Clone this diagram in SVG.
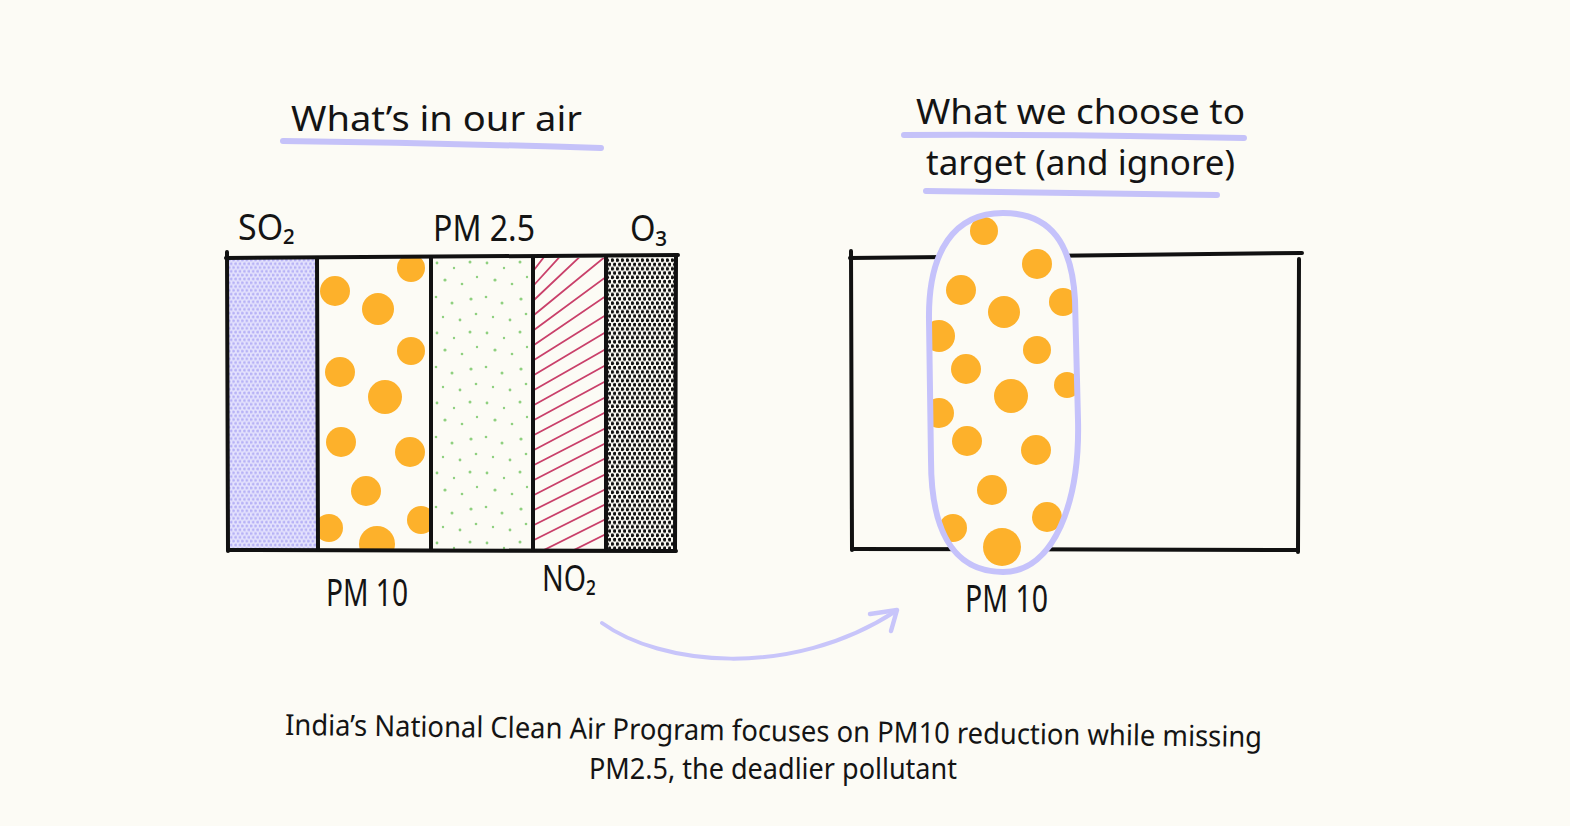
<svg xmlns="http://www.w3.org/2000/svg" width="1570" height="826" viewBox="0 0 1570 826">
<style>
.t{font-family:"Noto Sans","DejaVu Sans",sans-serif;fill:#141414;}
.ln{stroke:#111;stroke-width:4;stroke-linecap:round;fill:none;}
.ul{stroke:#c5c2f9;stroke-width:6;stroke-linecap:round;fill:none;}
.dot{fill:#fdb12b;}
.red{stroke:#c9406a;stroke-width:1.8;stroke-linecap:round;fill:none;}
</style>
<defs>
<pattern id="so2" patternUnits="userSpaceOnUse" x="228" y="258" width="4.4" height="7.6">
<rect width="4.4" height="7.6" fill="#e4e2fd"/>
<circle cx="1.1" cy="1.9" r="1.5" fill="#b7b2f6"/>
<circle cx="3.3" cy="5.7" r="1.5" fill="#b7b2f6"/>
</pattern>
<pattern id="o3" patternUnits="userSpaceOnUse" x="606" y="258" width="5" height="8.6">
<rect width="5" height="8.6" fill="#fcfbf5"/>
<circle cx="1.25" cy="2.15" r="1.85" fill="#111"/>
<circle cx="3.75" cy="6.45" r="1.85" fill="#111"/>
</pattern>
<pattern id="pm25" patternUnits="userSpaceOnUse" x="431" y="258" width="50" height="70">
<rect width="50" height="70" fill="#fcfbf5"/>
<g fill="#8fd07f">
<circle cx="6" cy="5" r="1.4"/><circle cx="23" cy="10" r="1.2"/><circle cx="39" cy="4" r="1.5"/>
<circle cx="14" cy="22" r="1.6"/><circle cx="31" cy="26" r="1.3"/><circle cx="46" cy="19" r="1.2"/>
<circle cx="5" cy="39" r="1.3"/><circle cx="21" cy="45" r="1.5"/><circle cx="40" cy="41" r="1.6"/>
<circle cx="12" cy="59" r="1.2"/><circle cx="29" cy="62" r="1.4"/><circle cx="45" cy="56" r="1.3"/>
</g>
</pattern>
<clipPath id="cPM10"><rect x="318" y="258" width="113" height="292"/></clipPath>
<clipPath id="cNO2"><rect x="533" y="258" width="73" height="292"/></clipPath>
<clipPath id="cPill"><path d="M1003,213 C1052,213 1072,245 1075,300 L1078,420 C1080,500 1055,572 1003,572 C950,572 931,525 931,460 L929,320 C928,250 955,213 1003,213 Z"/></clipPath>
</defs>
<rect width="1570" height="826" fill="#fcfbf5"/>

<g id="title-left">
<text class="t" x="291" y="131" font-size="34" textLength="291" lengthAdjust="spacingAndGlyphs">What’s in our air</text>
<path class="ul" d="M283,141 Q440,143 601,148"/>
</g>

<g id="title-right">
<text class="t" x="916" y="124" font-size="34" textLength="329" lengthAdjust="spacingAndGlyphs">What we choose to</text>
<path class="ul" d="M904,135 Q1070,134 1244,138"/>
<text class="t" x="926" y="175" font-size="34" textLength="309" lengthAdjust="spacingAndGlyphs">target (and ignore)</text>
<path class="ul" d="M926,191 Q1070,193 1217,195"/>
</g>

<g id="col-so2">
<rect x="228" y="258" width="89" height="292" fill="url(#so2)"/>
<text class="t" x="238" y="240" font-size="36" textLength="57" lengthAdjust="spacingAndGlyphs">SO₂</text>
</g>

<g id="col-pm10">
<rect x="318" y="258" width="113" height="292" fill="#fcfbf5"/>
<g clip-path="url(#cPM10)">
<circle class="dot" cx="411" cy="268" r="14"/>
<circle class="dot" cx="335" cy="291" r="15"/>
<circle class="dot" cx="378" cy="309" r="16"/>
<circle class="dot" cx="411" cy="351" r="14"/>
<circle class="dot" cx="340" cy="372" r="15"/>
<circle class="dot" cx="385" cy="397" r="17"/>
<circle class="dot" cx="341" cy="442" r="15"/>
<circle class="dot" cx="410" cy="452" r="15"/>
<circle class="dot" cx="366" cy="491" r="15"/>
<circle class="dot" cx="329" cy="528" r="14"/>
<circle class="dot" cx="421" cy="520" r="14"/>
<circle class="dot" cx="377" cy="544" r="18"/>
</g>
<text class="t" x="326" y="606" font-size="38" textLength="82" lengthAdjust="spacingAndGlyphs">PM 10</text>
</g>

<g id="col-pm25">
<rect x="431" y="258" width="102" height="292" fill="url(#pm25)"/>
<text class="t" x="433" y="241" font-size="36" textLength="102" lengthAdjust="spacingAndGlyphs">PM 2.5</text>
</g>

<g id="col-no2">
<rect x="533" y="258" width="73" height="292" fill="#fcfbf5"/>
<g clip-path="url(#cNO2)">
<path class="red" d="M534,270 L606,176 M534,285 L606,206 M534,300 L606,232 M534,315 L606,256 M534,330 L606,277 M534,345 L606,296 M534,360 L606,315 M534,375 L606,332 M534,390 L606,349 M534,405 L606,365 M534,420 L606,381 M534,435 L606,397 M534,450 L606,412 M534,465 L606,428 M534,480 L606,443 M534,495 L606,458 M534,510 L606,474 M534,525 L606,489 M534,540 L606,504 M534,555 L606,519 M534,570 L606,534 M534,585 L606,549"/>
</g>
<text class="t" x="542" y="591" font-size="36" textLength="54" lengthAdjust="spacingAndGlyphs">NO₂</text>
</g>

<g id="col-o3">
<rect x="606" y="258" width="70" height="292" fill="url(#o3)"/>
<text class="t" x="630" y="241" font-size="36" textLength="37" lengthAdjust="spacingAndGlyphs">O₃</text>
</g>

<g id="box-left">
<path class="ln" d="M226,258 L678,255"/>
<path class="ln" d="M227,252 L228,551"/>
<path class="ln" d="M676,255 L675,551" stroke-width="5"/>
<path class="ln" d="M228,550 L676,551"/>
<path class="ln" d="M317,258 L318,550" stroke-width="3.5"/>
<path class="ln" d="M431,258 L431,550" stroke-width="3.5"/>
<path class="ln" d="M533,257 L533,550"/>
<path class="ln" d="M606,256 L606,550" stroke-width="3.5"/>
</g>

<g id="box-right">
<path class="ln" d="M850,258 L1302,253"/>
<path class="ln" d="M851,251 L852,550"/>
<path class="ln" d="M1299,259 L1298,552"/>
<path class="ln" d="M852,549 L1298,550"/>
</g>

<g id="pill-pm10">
<path d="M1003,213 C1052,213 1072,245 1075,300 L1078,420 C1080,500 1055,572 1003,572 C950,572 931,525 931,460 L929,320 C928,250 955,213 1003,213 Z" fill="#fcfbf5"/>
<g clip-path="url(#cPill)">
<circle class="dot" cx="984" cy="231" r="14"/>
<circle class="dot" cx="1037" cy="264" r="15"/>
<circle class="dot" cx="961" cy="290" r="15"/>
<circle class="dot" cx="1004" cy="312" r="16"/>
<circle class="dot" cx="1063" cy="302" r="14"/>
<circle class="dot" cx="939" cy="336" r="16"/>
<circle class="dot" cx="1037" cy="350" r="14"/>
<circle class="dot" cx="966" cy="369" r="15"/>
<circle class="dot" cx="1011" cy="396" r="17"/>
<circle class="dot" cx="1067" cy="385" r="13"/>
<circle class="dot" cx="939" cy="413" r="15"/>
<circle class="dot" cx="967" cy="441" r="15"/>
<circle class="dot" cx="1036" cy="450" r="15"/>
<circle class="dot" cx="992" cy="490" r="15"/>
<circle class="dot" cx="953" cy="528" r="14"/>
<circle class="dot" cx="1047" cy="517" r="15"/>
<circle class="dot" cx="1002" cy="547" r="19"/>
</g>
<path d="M1003,213 C1052,213 1072,245 1075,300 L1078,420 C1080,500 1055,572 1003,572 C950,572 931,525 931,460 L929,320 C928,250 955,213 1003,213 Z" fill="none" stroke="#c5c2fb" stroke-width="6"/>
<text class="t" x="965" y="612" font-size="38" textLength="83" lengthAdjust="spacingAndGlyphs">PM 10</text>
</g>

<g id="connectors">
<path d="M602,623 C660,665 790,680 896,611" fill="none" stroke="#c8c5fa" stroke-width="4" stroke-linecap="round"/>
<path d="M870,614 L897,610 L891,631" fill="none" stroke="#c8c5fa" stroke-width="4.5" stroke-linecap="round" stroke-linejoin="round"/>
</g>

<g id="caption">
<text class="t" x="285" y="735" font-size="29" textLength="977" lengthAdjust="spacingAndGlyphs" transform="rotate(0.7 285 735)">India’s National Clean Air Program focuses on PM10 reduction while missing</text>
<text class="t" x="589" y="779" font-size="29" textLength="368" lengthAdjust="spacingAndGlyphs">PM2.5, the deadlier pollutant</text>
</g>
</svg>
